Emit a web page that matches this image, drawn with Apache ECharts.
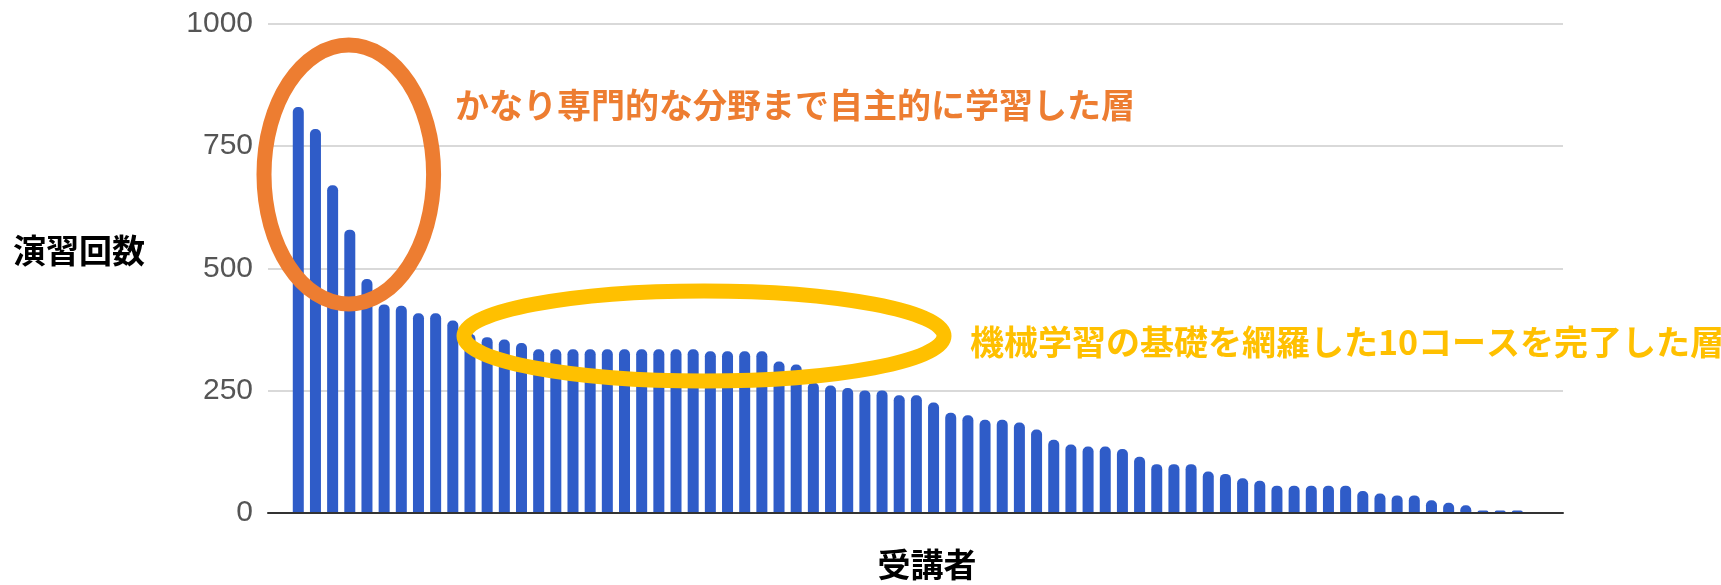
<!DOCTYPE html>
<html lang="ja">
<head>
<meta charset="utf-8">
<title>演習回数の分布</title>
<script src="https://cdn.jsdelivr.net/npm/echarts@6/dist/echarts.min.js"></script>
<style>
  html, body { margin: 0; padding: 0; background: #ffffff; }
  #chart { width: 1721px; height: 585px; }
</style>
</head>
<body>
<div id="chart"></div>
<script>
// 受講者ごとの演習回数（多い順）
const exerciseCounts = [
  830, 785, 670, 579, 478, 426, 423, 408, 408, 393,
  366, 359, 354, 347, 334, 334, 334, 334, 334, 334,
  334, 334, 334, 334, 330, 330, 330, 330, 309, 303,
  266, 260, 255, 250, 250, 240, 240, 225, 204, 199,
  190, 190, 184, 170, 149, 139, 135, 135, 130, 114,
  99, 99, 99, 84, 79, 70, 65, 55, 55, 55,
  55, 55, 44, 39, 35, 35, 25, 20, 15, 4,
  4, 4
];
// 受講者（横軸のカテゴリ、ラベルは非表示）
const learners = exerciseCounts.map((_, i) => '受講者' + (i + 1));
// 縦軸の目盛り
const yTicks = [0, 250, 500, 750, 1000];

const yAxisName = '演習回数';
const xAxisName = '受講者';
const noteAdvanced = 'かなり専門的な分野まで自主的に学習した層';
const noteCompleted = '機械学習の基礎を網羅した10コースを完了した層';

const chart = echarts.init(document.getElementById('chart'), null, { renderer: 'canvas' });

const plotTop = 24;
const plotBottom = 72.5;

chart.setOption({
  animation: false,
  backgroundColor: '#ffffff',
  grid: [
    // frame grid: gridlines, value labels and baseline
    { left: 268, right: 158, top: plotTop, bottom: plotBottom },
    // bar grid: same vertical scale, bars inset from the frame
    { left: 289.7, width: 1236.2, top: plotTop, bottom: plotBottom }
  ],
  xAxis: [
    {
      gridIndex: 0,
      type: 'value',
      min: 0,
      max: 1,
      z: 5,
      axisLine: { show: true, onZero: false, lineStyle: { color: '#333333', width: 2 } },
      axisTick: { show: false },
      axisLabel: { show: false },
      splitLine: { show: false }
    },
    {
      gridIndex: 1,
      type: 'category',
      data: learners,
      boundaryGap: true,
      axisLine: { show: false },
      axisTick: { show: false },
      axisLabel: { show: false },
      splitLine: { show: false }
    }
  ],
  yAxis: [
    {
      gridIndex: 0,
      type: 'value',
      min: yTicks[0],
      max: yTicks[yTicks.length - 1],
      interval: yTicks[1] - yTicks[0],
      axisLine: { show: false },
      axisTick: { show: false },
      axisLabel: {
        margin: 15,
        color: '#555555',
        fontFamily: 'Liberation Sans, Arial, sans-serif',
        fontSize: 30,
        formatter: (v) => String(v)
      },
      splitLine: { show: true, lineStyle: { color: '#cccccc', width: 1.5 } }
    },
    {
      gridIndex: 1,
      type: 'value',
      min: yTicks[0],
      max: yTicks[yTicks.length - 1],
      interval: yTicks[1] - yTicks[0],
      show: false,
      splitLine: { show: false }
    }
  ],
  series: [
    {
      type: 'bar',
      name: yAxisName,
      xAxisIndex: 1,
      yAxisIndex: 1,
      data: exerciseCounts,
      barWidth: 11,
      itemStyle: { color: '#2f5cc8', borderRadius: [5, 5, 0, 0] }
    }
  ],
  graphic: [
    {
      type: 'text', x: 79, y: 250, z: 100,
      style: {
        text: yAxisName, fill: '#000000', align: 'center', verticalAlign: 'middle',
        font: 'bold 33px "Noto Sans CJK JP", sans-serif'
      }
    },
    {
      type: 'text', x: 927, y: 564, z: 100,
      style: {
        text: xAxisName, fill: '#000000', align: 'center', verticalAlign: 'middle',
        font: 'bold 33px "Noto Sans CJK JP", sans-serif'
      }
    },
    // top learners group
    {
      type: 'ellipse', z: 100,
      shape: { cx: 348.8, cy: 174.5, rx: 84.8, ry: 129.5 },
      style: { fill: 'none', stroke: '#ed7d31', lineWidth: 15 }
    },
    {
      type: 'text', x: 455, y: 105, z: 100,
      style: {
        text: noteAdvanced, fill: '#ed7d31', align: 'left', verticalAlign: 'middle',
        font: 'bold 34px "Noto Sans CJK JP", sans-serif'
      }
    },
    // plateau group
    {
      type: 'ellipse', z: 100,
      shape: { cx: 704, cy: 336, rx: 240, ry: 45 },
      style: { fill: 'none', stroke: '#ffc000', lineWidth: 15 }
    },
    {
      type: 'text', x: 970, y: 342, z: 100,
      style: {
        text: noteCompleted, fill: '#ffc000', align: 'left', verticalAlign: 'middle',
        font: 'bold 34px "Noto Sans CJK JP", sans-serif'
      }
    }
  ]
});
</script>
</body>
</html>
